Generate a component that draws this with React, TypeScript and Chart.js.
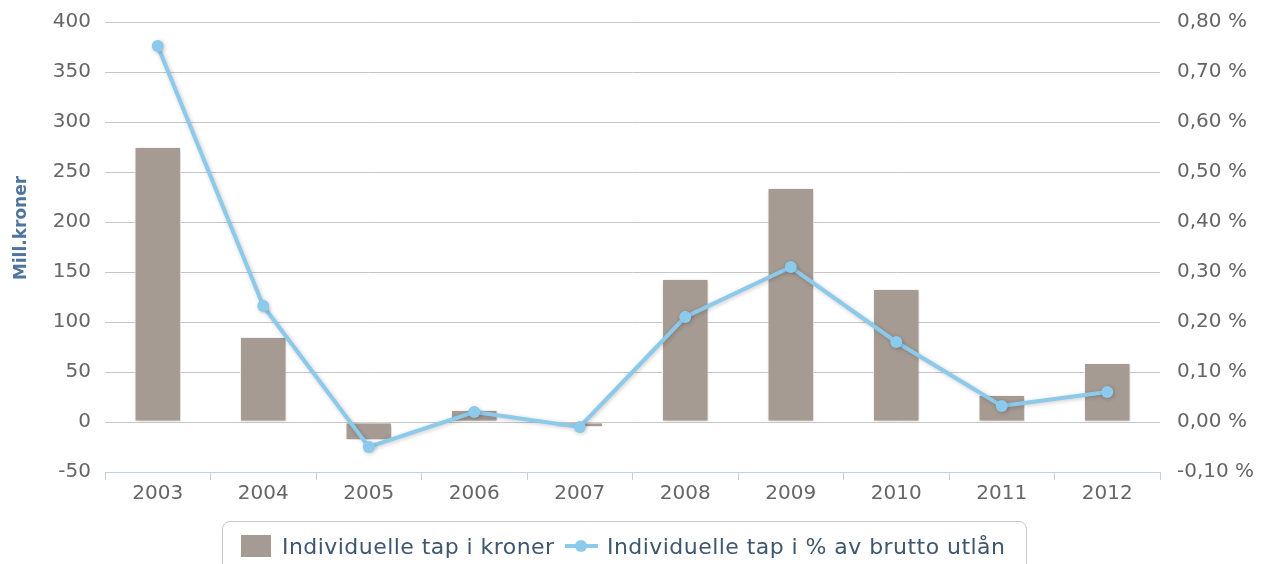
import React, { useEffect, useRef } from 'react';
import { Chart, registerables } from 'chart.js';

Chart.register(...registerables);

const years = ['2003', '2004', '2005', '2006', '2007', '2008', '2009', '2010', '2011', '2012'];
const lossNok = [275, 85, -18, 12, -5, 143, 234, 133, 27, 59];
const lossPct = [0.752, 0.232, -0.05, 0.02, -0.01, 0.21, 0.31, 0.16, 0.032, 0.06];
const barLabel = 'Individuelle tap i kroner';
const lineLabel = 'Individuelle tap i % av brutto utlån';
const axisTitle = 'Mill.kroner';

const FONT = '"DejaVu Sans", Verdana, sans-serif';
const BAR_COLOR = '#a69b92';
const LINE_COLOR = '#8ccaeb';

const shadowPlugin = {
  id: 'shadowPlugin',
  beforeDatasetDraw(chart: any) {
    const ctx = chart.ctx;
    ctx.save();
    ctx.shadowColor = 'rgba(0,0,0,0.22)';
    ctx.shadowBlur = 4;
    ctx.shadowOffsetX = 1;
    ctx.shadowOffsetY = 1;
  },
  afterDatasetDraw(chart: any) {
    chart.ctx.restore();
  },
};

const titlePlugin = {
  id: 'axisTitlePlugin',
  afterDraw(chart: any) {
    const ctx = chart.ctx;
    ctx.save();
    ctx.translate(22, 228);
    ctx.rotate(-Math.PI / 2);
    ctx.font = `bold 17px ${FONT}`;
    ctx.fillStyle = '#4d759e';
    ctx.textAlign = 'center';
    ctx.textBaseline = 'middle';
    ctx.fillText(axisTitle, 0, 0);
    ctx.restore();
  },
};

export default function App() {
  const canvasRef = useRef<HTMLCanvasElement>(null);

  useEffect(() => {
    document.body.style.margin = '0';
    const chart = new Chart(canvasRef.current as HTMLCanvasElement, {
      type: 'bar',
      data: {
        labels: years,
        datasets: [
          {
            type: 'line',
            label: lineLabel,
            data: lossPct,
            yAxisID: 'y1',
            borderColor: LINE_COLOR,
            backgroundColor: LINE_COLOR,
            borderWidth: 4,
            pointRadius: 6,
            pointBorderWidth: 0,
            pointBackgroundColor: LINE_COLOR,
            tension: 0,
            order: 0,
          } as any,
          {
            type: 'bar',
            label: barLabel,
            data: lossNok,
            yAxisID: 'y',
            backgroundColor: BAR_COLOR,
            borderColor: '#ffffff',
            borderWidth: 1,
            borderSkipped: false,
            categoryPercentage: 1,
            barPercentage: 0.44,
            order: 1,
          } as any,
        ],
      },
      options: {
        responsive: false,
        animation: false,
        layout: { padding: { top: 22, left: 0, right: 0, bottom: 0 } },
        plugins: {
          legend: { display: false },
          tooltip: { enabled: false },
        },
        scales: {
          x: {
            offset: true,
            grid: {
              display: true,
              offset: true,
              drawOnChartArea: false,
              drawTicks: true,
              tickLength: 8,
              color: '#c0d0e0',
            },
            border: { display: true, color: '#c0d0e0' },
            ticks: {
              color: '#666666',
              font: { family: FONT, size: 20 },
              padding: 2,
              maxRotation: 0,
            },
            afterFit(scale: any) {
              scale.height = 92;
            },
          },
          y: {
            position: 'left',
            min: -50,
            max: 400,
            ticks: {
              stepSize: 50,
              color: '#666666',
              font: { family: FONT, size: 20 },
              padding: 14,
            },
            grid: {
              drawTicks: false,
              color: (c: any) => (c.tick && c.tick.value === -50 ? 'rgba(0,0,0,0)' : '#c6c6c6'),
            },
            border: { display: false },
            afterFit(scale: any) {
              scale.width = 105;
              scale.paddingTop = 0;
              scale.paddingBottom = 0;
            },
          },
          y1: {
            position: 'right',
            min: -0.1,
            max: 0.8,
            ticks: {
              stepSize: 0.1,
              color: '#666666',
              font: { family: FONT, size: 20 },
              padding: 17,
              callback: (v: any) => Number(v).toFixed(2).replace('.', ',') + ' %',
            },
            grid: { display: false, drawTicks: false },
            border: { display: false },
            afterFit(scale: any) {
              scale.width = 102;
              scale.paddingTop = 0;
              scale.paddingBottom = 0;
            },
          },
        },
      },
      plugins: [shadowPlugin, titlePlugin],
    });
    return () => chart.destroy();
  }, []);

  const legendText: React.CSSProperties = {
    position: 'absolute',
    top: 533,
    fontFamily: FONT,
    fontSize: 22,
    lineHeight: '28px',
    color: '#3e576f',
    letterSpacing: '0.45px',
    whiteSpace: 'nowrap',
  };

  return (
    <div style={{ position: 'absolute', left: 0, top: 0, width: 1262, height: 564, overflow: 'hidden', background: '#fff' }}>
      <canvas ref={canvasRef} width={1262} height={564} style={{ position: 'absolute', left: 0, top: 0 }} />
      <div
        style={{
          position: 'absolute',
          left: 222,
          top: 521,
          width: 805,
          height: 70,
          border: '1px solid #c8c8c8',
          borderRadius: 8,
          boxSizing: 'border-box',
        }}
      />
      <div style={{ position: 'absolute', left: 241, top: 535, width: 30, height: 22, background: BAR_COLOR }} />
      <span style={{ ...legendText, left: 282 }}>{barLabel}</span>
      <div style={{ position: 'absolute', left: 565, top: 544, width: 33, height: 4, background: LINE_COLOR }} />
      <div style={{ position: 'absolute', left: 575, top: 540, width: 12, height: 12, borderRadius: 6, background: LINE_COLOR }} />
      <span style={{ ...legendText, left: 607 }}>{lineLabel}</span>
    </div>
  );
}
